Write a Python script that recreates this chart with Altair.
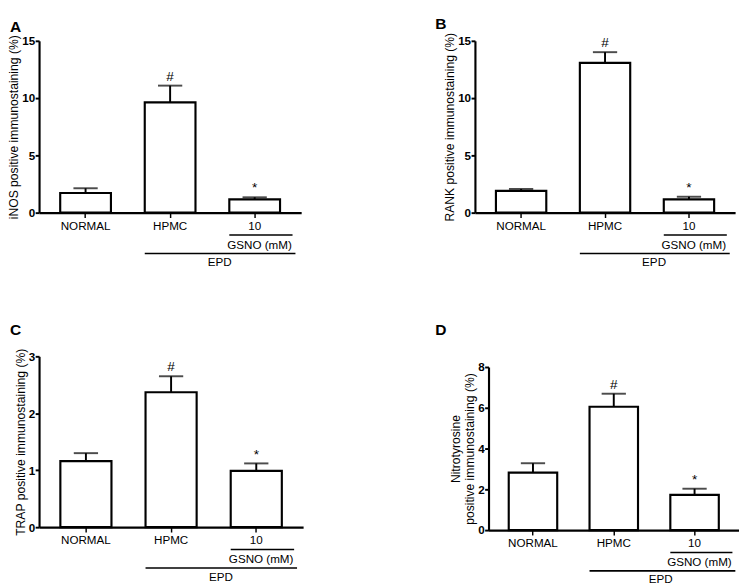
import altair as alt
import pandas as pd

FONT = "Liberation Sans"

categories = ["NORMAL", "HPMC", "10"]
sig_marks = ["", "#", "*"]

inos_mean = [1.72, 9.63, 1.16]
inos_err = [2.13, 11.09, 1.34]

rank_mean = [1.90, 13.08, 1.16]
rank_err = [2.07, 14.01, 1.39]

trap_mean = [1.16, 2.37, 0.99]
trap_err = [1.30, 2.65, 1.12]

nitro_mean = [2.82, 6.05, 1.73]
nitro_err = [3.28, 6.69, 2.03]

group_label = "GSNO (mM)"
model_label = "EPD"


def panel(letter, ytitle, means, errs, ymax, ystep, width, height, letter_dx, letter_offset):
    df = pd.DataFrame({"group": categories, "mean": means, "err": errs, "sig": sig_marks})
    xscale = alt.Scale(domain=categories, paddingInner=0.4, paddingOuter=0.25)
    xaxis = alt.Axis(title=None, labelAngle=0, labelFontSize=12, labelFont=FONT,
                     labelColor="black", labelPadding=3, tickSize=5, tickWidth=1.5,
                     tickColor="black", domainColor="black", domainWidth=2.2)
    yaxis = alt.Axis(title=ytitle, values=list(range(0, ymax + 1, ystep)), format="d", grid=False,
                     labelFontWeight="bold", labelFontSize=12, labelFont=FONT,
                     labelColor="black", labelPadding=0.5, tickSize=4, tickWidth=2,
                     tickColor="black", domainColor="black", domainWidth=2.2,
                     titleFont=FONT, titleFontSize=12.5, titleFontWeight="normal",
                     titleColor="black", titlePadding=1)
    x = alt.X("group:N", scale=xscale, axis=xaxis, sort=categories)
    xn = alt.X("group:N", sort=categories)
    base = alt.Chart(df)
    bars = base.mark_bar(fill="white", stroke="black", strokeWidth=2.2).encode(
        x=x, y=alt.Y("mean:Q", scale=alt.Scale(domain=[0, ymax], nice=False), axis=yaxis)
    )
    stem = base.mark_rule(color="black", strokeWidth=2).encode(x=xn, y="mean:Q", y2="err:Q")
    cap = base.mark_tick(color="black", thickness=2, size=25).encode(x=xn, y="err:Q")
    sig = base.mark_text(baseline="bottom", dy=-2, fontSize=14, font=FONT, color="black").encode(
        x=xn, y="err:Q", text="sig:N"
    )

    ann = pd.DataFrame({"lo": [categories[2]], "hi": [categories[2]], "mid": [categories[1]]})
    abase = alt.Chart(ann)
    line_gsno = abase.mark_rule(color="black", strokeWidth=1.6, x2Offset=39).encode(
        x=alt.X("lo:N", bandPosition=0, sort=categories), x2="hi:N", y=alt.value(height + 23)
    )
    line_epd = abase.mark_rule(color="black", strokeWidth=1.6, x2Offset=42).encode(
        x=alt.X("mid:N", bandPosition=0, sort=categories), x2="hi:N", y=alt.value(height + 42)
    )
    txt_gsno = abase.mark_text(fontSize=12, font=FONT, color="black", dx=5, baseline="middle").encode(
        x=alt.X("hi:N", sort=categories), y=alt.value(height + 33), text=alt.value(group_label)
    )
    txt_epd = abase.mark_text(fontSize=12, font=FONT, color="black", dx=-10, baseline="middle").encode(
        x=alt.X("lo:N", bandPosition=0, sort=categories), y=alt.value(height + 51), text=alt.value(model_label)
    )
    return alt.layer(bars, stem, cap, sig, line_gsno, line_epd, txt_gsno, txt_epd).properties(
        width=width, height=height,
        title=alt.TitleParams(letter, anchor="start", frame="group", fontSize=16, fontWeight="bold",
                              font=FONT, color="black", dx=letter_dx, offset=letter_offset),
    )


pA = panel("A", "iNOS positive immunostaining (%)", inos_mean, inos_err, 15, 5, 270, 177, -30, 0)
pB = panel("B", "RANK positive immunostaining (%)", rank_mean, rank_err, 15, 5, 268, 177, -41, 0)
pC = panel("C", "TRAP positive immunostaining (%)", trap_mean, trap_err, 3, 1, 272, 176, -30, 10)
pD = panel("D", ["Nitrotyrosine", "positive immunostaining (%)"], nitro_mean, nitro_err, 8, 2,
           258, 168, -55, 24)

chart = alt.concat(pA, pB, pC, pD, columns=2, align="none",
                   spacing={"row": 56, "column": 136}).properties(
    padding={"left": 0, "top": 0, "right": 0, "bottom": 0}
).configure_view(stroke=None)

chart.save("out.html", embed_options={"renderer": "svg", "actions": False})
